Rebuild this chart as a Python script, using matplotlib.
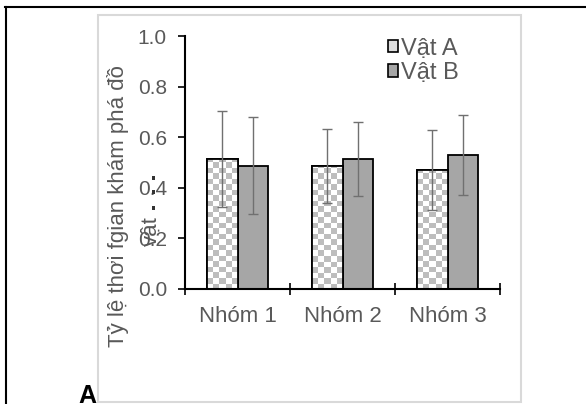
import numpy as np
import matplotlib
matplotlib.use("Agg")
import matplotlib.pyplot as plt
from matplotlib.patches import Patch, Rectangle
from matplotlib.lines import Line2D
from matplotlib.colors import ListedColormap

plt.rcParams['font.family'] = ['Liberation Sans', 'DejaVu Sans']

# ---------------------------------------------------------------------------
# data
# ---------------------------------------------------------------------------
groups = ["Nhóm 1", "Nhóm 2", "Nhóm 3"]
series = ["Vật A", "Vật B"]
vat_a = [0.513, 0.486, 0.470]
vat_b = [0.488, 0.514, 0.529]
err_a = [0.19, 0.146, 0.158]
err_b = [0.19, 0.146, 0.157]
yticks = [0.0, 0.2, 0.4, 0.6, 0.8, 1.0]
ylabel_1 = "Tỷ lệ thơi fgian khám phá đồ"
ylabel_2 = "vật"
panel = "A"

GRAY_TXT = "#595959"
BAR_B = "#a6a6a6"
CHECK = "#bdbdbd"

W, H = 586, 404
fig = plt.figure(figsize=(W / 100, H / 100), dpi=100)
ax = fig.add_axes([185 / W, 1 - 289 / H, 315 / W, 253 / H])

x = np.arange(len(groups))
bw = 0.286
bars_a = ax.bar(x - bw / 2, vat_a, bw, facecolor="white", edgecolor="black",
                linewidth=1.3, zorder=2)
bars_b = ax.bar(x + bw / 2, vat_b, bw, facecolor=BAR_B, edgecolor="black",
                linewidth=1.3, zorder=2)

# checkerboard fill for Vat A, clipped to each bar
cell_px = 5.5
px_x = 315 / len(groups)
px_y = 253.0
for b in bars_a:
    x0, y0 = b.get_x(), b.get_y()
    bwid, bh = b.get_width(), b.get_height()
    nx = max(1, int(round(bwid * px_x / cell_px)))
    ny = max(1, int(np.ceil(bh * px_y / cell_px)))
    board = (np.add.outer(np.arange(ny), np.arange(nx)) % 2).astype(float)
    im = ax.imshow(board, extent=(x0, x0 + bwid, y0, y0 + ny * cell_px / px_y),
                   origin="lower", cmap=ListedColormap(["white", CHECK]),
                   interpolation="nearest", aspect="auto", zorder=2.5)
    im.set_clip_path(b)
    # outline again on top of the pattern
    ax.add_patch(Rectangle((x0, y0), bwid, bh, fill=False, edgecolor="black",
                           linewidth=1.3, zorder=2.6))
ax.set_xlim(-0.5, len(groups) - 0.5)
ax.set_ylim(0, 1.0)

ax.errorbar(x - bw / 2, vat_a, yerr=err_a, fmt="none", ecolor="#707070",
            elinewidth=1.0, capsize=3.8, capthick=1.0, zorder=3)
ax.errorbar(x + bw / 2, vat_b, yerr=err_b, fmt="none", ecolor="#707070",
            elinewidth=1.0, capsize=3.8, capthick=1.0, zorder=3)

# axes styling
for s in ["top", "right"]:
    ax.spines[s].set_visible(False)
for s in ["left", "bottom"]:
    ax.spines[s].set_linewidth(1.5)
    ax.spines[s].set_color("black")

ax.set_yticks(yticks)
ax.set_yticklabels([f"{v:.1f}" for v in yticks])
ax.tick_params(axis="y", direction="out", length=5, width=1.2,
               labelsize=15, labelcolor=GRAY_TXT, pad=8)
ax.set_xticks(np.arange(len(groups) + 1) - 0.5, minor=True)
ax.set_xticks(x)
ax.set_xticklabels(groups)
ax.tick_params(axis="x", which="major", length=0, labelsize=16,
               labelcolor=GRAY_TXT, pad=12)
ax.tick_params(axis="x", which="minor", direction="inout", length=9, width=1.2)

# legend
handles = [Patch(facecolor="#dcdcdc", edgecolor="black", linewidth=1.2),
           Patch(facecolor=BAR_B, edgecolor="black", linewidth=1.2)]
ax.legend(handles, series, loc="upper left", bbox_to_anchor=(0.6, 1.05),
          frameon=False, fontsize=17, handlelength=0.42, handleheight=0.42,
          handletextpad=0.12, labelspacing=0.1, labelcolor=GRAY_TXT,
          borderaxespad=0.2)

# y label (two lines placed like the original)
fig.text(118 / W, 1 - 206 / H, ylabel_1, rotation=90, ha="center", va="center",
         fontsize=16, color=GRAY_TXT)
fig.text(151 / W, 1 - 231 / H, ylabel_2, rotation=90, ha="center", va="center",
         fontsize=16, color=GRAY_TXT)
for yy in [178, 192, 208]:
    fig.patches.append(Rectangle(((153 - 1.5) / W, 1 - (yy + 1.5) / H), 3.5 / W, 3.5 / H,
                                 transform=fig.transFigure, facecolor="#333333",
                                 edgecolor="none"))

# frame decorations
fig.add_artist(Line2D([5 / W, 1], [1 - 7 / H, 1 - 7 / H], color="black", lw=1.5,
                      transform=fig.transFigure))
fig.add_artist(Line2D([6 / W, 6 / W], [0, 1 - 7 / H], color="black", lw=1.5,
                      transform=fig.transFigure))
fig.add_artist(Rectangle((98 / W, 1 - 402 / H), (521 - 98) / W, (402 - 15) / H,
                         transform=fig.transFigure, fill=False,
                         edgecolor="#d9d9d9", lw=1.5))

fig.text(78 / W, 1 - 384 / H, panel, ha="left", va="top", fontsize=18,
         fontweight="bold", color="black")

fig.savefig("out.png", dpi=100)
